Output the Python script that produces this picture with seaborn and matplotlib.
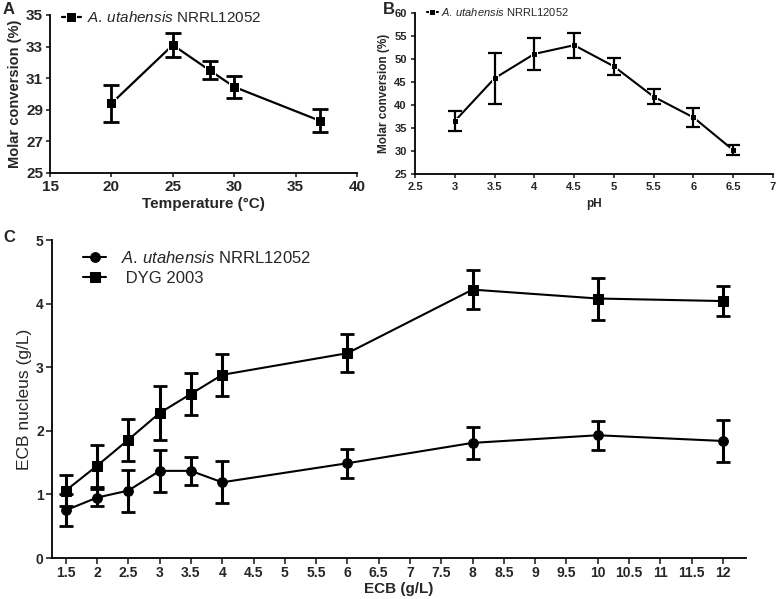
import numpy as np
import pandas as pd
import matplotlib
matplotlib.use('Agg')
import matplotlib.pyplot as plt
import seaborn as sns

# Panel A - temperature
temp = [20, 25, 28, 30, 37]
temp_conv = [29.4, 33.1, 31.5, 30.45, 28.3]
temp_err = [1.2, 0.76, 0.58, 0.69, 0.73]

# Panel B - pH
ph = [3, 3.5, 4, 4.5, 5, 5.5, 6, 6.5]
ph_conv = [36.5, 45.8, 51.1, 53.0, 48.4, 41.8, 37.3, 30.2]
ph_err = [2.1, 5.6, 3.4, 2.7, 1.9, 1.6, 2.0, 1.1]

# Panel C - ECB concentration
ecb = [1.5, 2, 2.5, 3, 3.5, 4, 6, 8, 10, 12]
ecb_aut = [0.75, 0.95, 1.06, 1.37, 1.37, 1.19, 1.49, 1.81, 1.93, 1.84]
ecb_aut_err = [0.25, 0.14, 0.33, 0.33, 0.22, 0.33, 0.23, 0.25, 0.23, 0.33]
ecb_dyg = [1.06, 1.45, 1.86, 2.28, 2.58, 2.88, 3.22, 4.22, 4.08, 4.04]
ecb_dyg_err = [0.24, 0.33, 0.33, 0.43, 0.33, 0.33, 0.30, 0.31, 0.33, 0.24]
ecb_ticks = [1.5, 2, 2.5, 3, 3.5, 4, 4.5, 5, 5.5, 6, 6.5, 7, 7.5, 8, 8.5, 9,
             9.5, 10, 10.5, 11, 11.5, 12]
ecb_ticklabels = ['1.5', '2', '2.5', '3', '3.5', '4', '4.5', '5', '5.5', '6', '6.5',
                  '7', '7.5', '8', '8.5', '9', '9.5', '10', '10.5', '11', '11.5', '12']

sns.set_style('ticks')
plt.rcParams['font.family'] = ['Liberation Sans', 'DejaVu Sans']
plt.rcParams['mathtext.fontset'] = 'custom'
plt.rcParams['mathtext.it'] = 'Liberation Sans:italic'
plt.rcParams['mathtext.rm'] = 'Liberation Sans'

W, H = 777, 599
fig = plt.figure(figsize=(W / 100, H / 100), dpi=100)


def px_axes(l, t, r, b):
    return fig.add_axes([l / W, 1 - b / H, (r - l) / W, (b - t) / H])


aut_label = r'$\mathit{A.\,utahensis}$ NRRL12052'

# ---- A ----
axA = px_axes(50, 15, 357, 173)
dfA = pd.DataFrame({'t': temp, 'c': temp_conv})
sns.lineplot(data=dfA, x='t', y='c', ax=axA, color='black', marker='s', markersize=7,
             linewidth=1.6, label=aut_label)
axA.errorbar(temp, temp_conv, yerr=temp_err, fmt='none', ecolor='black',
             elinewidth=2, capsize=6, capthick=2)
axA.set_xlim(15, 40)
axA.set_ylim(25, 35)
axA.set_xticks([15, 20, 25, 30, 35, 40])
axA.set_yticks([25, 27, 29, 31, 33, 35])
axA.set_xlabel('Temperature (°C)', fontsize=11, fontweight='bold', labelpad=2)
axA.set_ylabel('Molar conversion (%)', fontsize=10.5, fontweight='bold', labelpad=3)
for lab in axA.get_xticklabels() + axA.get_yticklabels():
    lab.set_fontweight('bold')
axA.tick_params(labelsize=11, length=3, width=1.2, pad=2)
axA.legend(loc='upper left', bbox_to_anchor=(0.02, 1.07), frameon=False, fontsize=11,
           handlelength=1.2, handletextpad=0.4, borderaxespad=0)

# ---- B ----
axB = px_axes(415, 13, 773, 174)
dfB = pd.DataFrame({'p': ph, 'c': ph_conv})
sns.lineplot(data=dfB, x='p', y='c', ax=axB, color='black', marker='s', markersize=5,
             linewidth=1.5, label=aut_label)
axB.errorbar(ph, ph_conv, yerr=ph_err, fmt='none', ecolor='black',
             elinewidth=1.6, capsize=5, capthick=1.6)
axB.set_xlim(2.5, 7)
axB.set_ylim(25, 60)
axB.set_xticks(np.arange(2.5, 7.01, 0.5))
axB.set_xticklabels(['2.5', '3', '3.5', '4', '4.5', '5', '5.5', '6', '6.5', '7'])
axB.set_yticks(np.arange(25, 61, 5))
axB.set_xlabel('pH', fontsize=8.5, fontweight='bold', labelpad=4)
axB.set_ylabel('Molar conversion (%)', fontsize=8.5, fontweight='bold', labelpad=3)
for lab in axB.get_xticklabels() + axB.get_yticklabels():
    lab.set_fontweight('bold')
axB.tick_params(labelsize=8, length=3, width=1.2, pad=3)
axB.legend(loc='upper left', bbox_to_anchor=(0.02, 1.07), frameon=False, fontsize=8,
           handlelength=1.0, handletextpad=0.3, borderaxespad=0)

# ---- C ----
axC = px_axes(52, 240, 746, 558)
dfC = pd.DataFrame({'ecb': ecb * 2, 'val': ecb_aut + ecb_dyg,
                    'strain': [aut_label] * len(ecb) + [' DYG 2003'] * len(ecb)})
sns.lineplot(data=dfC, x='ecb', y='val', hue='strain', style='strain',
             markers=['o', 's'], dashes=False, palette=['black', 'black'],
             markersize=7, linewidth=1.5, ax=axC, markeredgecolor='black')
axC.errorbar(ecb, ecb_aut, yerr=ecb_aut_err, fmt='none', ecolor='black',
             elinewidth=2.2, capsize=5, capthick=2)
axC.errorbar(ecb, ecb_dyg, yerr=ecb_dyg_err, fmt='none', ecolor='black',
             elinewidth=2.2, capsize=5, capthick=2)
axC.set_xlim(1.28, 12.37)
axC.set_ylim(0, 5)
axC.set_xticks(ecb_ticks)
axC.set_xticklabels(ecb_ticklabels)
axC.set_yticks([0, 1, 2, 3, 4, 5])
axC.set_xlabel('ECB (g/L)', fontsize=11, fontweight='bold', labelpad=1)
axC.set_ylabel('ECB nucleus (g/L)', fontsize=12.5, labelpad=3)
for lab in axC.get_xticklabels() + axC.get_yticklabels():
    lab.set_fontweight('bold')
axC.tick_params(labelsize=10, length=4, width=1.2, pad=2)
axC.legend(loc='upper left', bbox_to_anchor=(0.035, 0.99), frameon=False, fontsize=12,
           handlelength=1.4, handletextpad=0.9, borderaxespad=0, labelspacing=0.3)

for ax in (axA, axB, axC):
    sns.despine(ax=ax)
    for s in ('left', 'bottom'):
        ax.spines[s].set_linewidth(1.3)
        ax.spines[s].set_color('black')

fig.text(3 / W, 1 - 10 / H, 'A', fontsize=12, fontweight='bold', va='center')
fig.text(383 / W, 1 - 10 / H, 'B', fontsize=12, fontweight='bold', va='center')
fig.text(3 / W, 1 - 238 / H, 'C', fontsize=12, fontweight='bold', va='center')

fig.savefig('out.png', dpi=100)
